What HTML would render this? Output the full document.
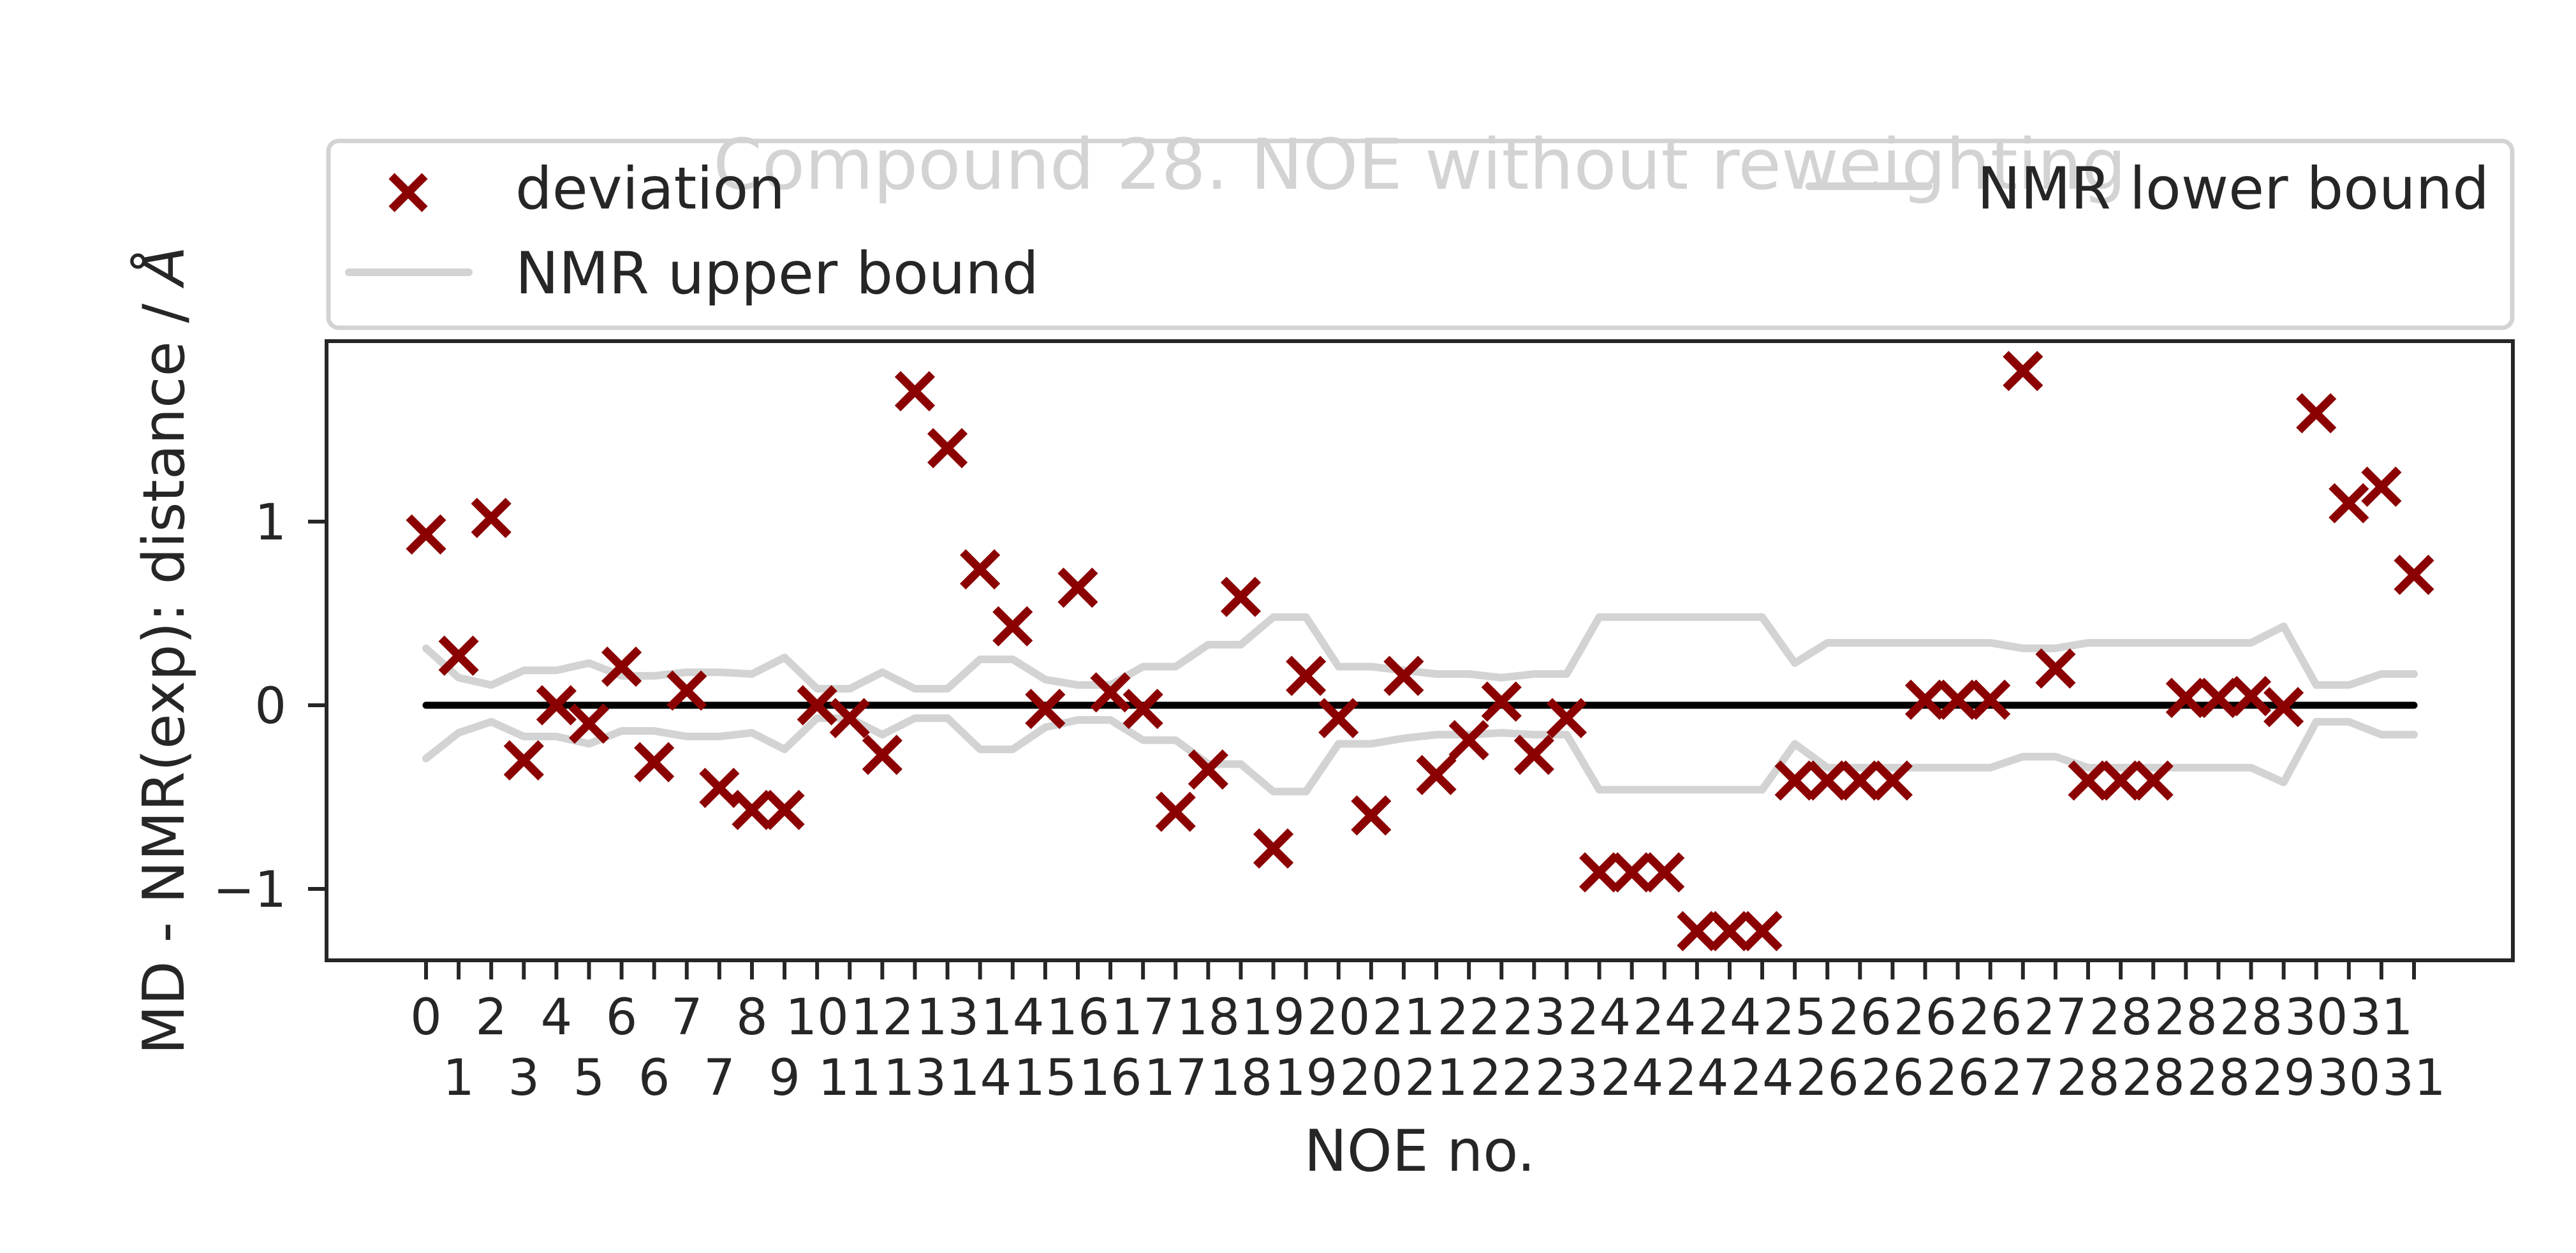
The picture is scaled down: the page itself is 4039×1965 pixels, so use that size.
<!DOCTYPE html>
<html><head><meta charset="utf-8"><style>
html,body{margin:0;padding:0;background:#fff;}
svg text{font-family:"DejaVu Sans","Liberation Sans",sans-serif;}
</style></head><body>
<svg id="chart" width="4039" height="1960" viewBox="0 0 4039 1960" xmlns="http://www.w3.org/2000/svg">
<rect width="4039" height="1960" fill="#fff"/>
<text x="2226" y="296" font-size="110" fill="#d3d3d3" text-anchor="middle">Compound 28. NOE without reweighting</text>
<g>
<rect x="515" y="221" width="3424" height="293" rx="16" fill="none" stroke="#d3d3d3" stroke-width="7"/>
<g>
<path d="M614 276 L666 328 M614 328 L666 276" stroke="#8b0000" stroke-width="13"/>
<text x="808" y="327" font-size="91" fill="#262626">deviation</text>
</g>
<g>
<line x1="547" y1="427" x2="735" y2="427" stroke="#d3d3d3" stroke-width="12" stroke-linecap="round"/>
<text x="808" y="460" font-size="91" fill="#262626">NMR upper bound</text>
</g>
<g>
<line x1="2837" y1="292" x2="3024" y2="292" stroke="#d3d3d3" stroke-width="12" stroke-linecap="round"/>
<text x="3100" y="327" font-size="91" fill="#262626">NMR lower bound</text>
</g>
</g>
<g id="plot"></g>
<rect x="512" y="535" width="3428" height="971" fill="none" stroke="#262626" stroke-width="6"/>
<g id="xticks"></g>
<g id="yticks"></g>
<text x="2226" y="1836" font-size="90" fill="#262626" text-anchor="middle">NOE no.</text>
<text transform="translate(288,1020) rotate(-90)" font-size="90" fill="#262626" text-anchor="middle">MD - NMR(exp): distance / <tspan font-style="italic">Å</tspan></text>
</svg>
<script>
const xLabels = ["0","1","2","3","4","5","6","6","7","7","8","9","10","11","12","13","13","14","14","15","16","16","17","17","18","18","19","19","20","20","21","21","22","22","23","23","24","24","24","24","24","24","25","26","26","26","26","26","26","27","27","28","28","28","28","28","28","29","30","30","31","31"];
const deviation = [0.93,0.27,1.02,-0.30,0.0,-0.10,0.21,-0.31,0.08,-0.45,-0.57,-0.57,0.0,-0.07,-0.27,1.71,1.40,0.74,0.43,-0.02,0.64,0.07,-0.02,-0.58,-0.35,0.59,-0.78,0.16,-0.07,-0.60,0.16,-0.38,-0.19,0.02,-0.27,-0.07,-0.91,-0.91,-0.91,-1.23,-1.23,-1.23,-0.41,-0.41,-0.41,-0.41,0.03,0.03,0.03,1.82,0.20,-0.41,-0.41,-0.41,0.04,0.04,0.05,-0.01,1.59,1.10,1.19,0.71];
const upperBound = [0.31,0.15,0.11,0.19,0.19,0.23,0.16,0.16,0.18,0.18,0.17,0.26,0.09,0.09,0.18,0.09,0.09,0.25,0.25,0.14,0.11,0.11,0.21,0.21,0.33,0.33,0.48,0.48,0.21,0.21,0.19,0.17,0.17,0.15,0.17,0.17,0.48,0.48,0.48,0.48,0.48,0.48,0.23,0.34,0.34,0.34,0.34,0.34,0.34,0.31,0.31,0.34,0.34,0.34,0.34,0.34,0.34,0.43,0.11,0.11,0.17,0.17];
const lowerBound = [-0.29,-0.15,-0.09,-0.17,-0.17,-0.21,-0.14,-0.14,-0.17,-0.17,-0.15,-0.24,-0.07,-0.07,-0.16,-0.07,-0.07,-0.24,-0.24,-0.12,-0.08,-0.08,-0.19,-0.19,-0.32,-0.32,-0.47,-0.47,-0.21,-0.21,-0.18,-0.16,-0.16,-0.15,-0.16,-0.16,-0.46,-0.46,-0.46,-0.46,-0.46,-0.46,-0.21,-0.34,-0.34,-0.34,-0.34,-0.34,-0.34,-0.28,-0.28,-0.34,-0.34,-0.34,-0.34,-0.34,-0.34,-0.42,-0.09,-0.09,-0.16,-0.16];
const yTicks = [-1,0,1];
const yTickLabels = ["\u22121","0","1"];

const NS = "http://www.w3.org/2000/svg";
const X0 = 668, X1 = 3785, Y0 = 1106, YU = 288;
function xScale(i){ return X0 + i*(X1-X0)/(xLabels.length-1); }
function yScale(v){ return Y0 - v*YU; }
function mk(tag, attrs, parent){ const e=document.createElementNS(NS,tag); for(const k in attrs) e.setAttribute(k,attrs[k]); parent.appendChild(e); return e; }

const plot = document.getElementById('plot');
function boundLine(arr, name){
  const d = arr.map((v,i)=>(i?'L':'M')+xScale(i).toFixed(1)+' '+yScale(v).toFixed(1)).join(' ');
  const p = mk('path',{d:d,fill:'none',stroke:'#d3d3d3','stroke-width':12,'stroke-linejoin':'round','stroke-linecap':'round'},plot);
  
  
}
boundLine(upperBound,'nmr-upper-bound-line');
boundLine(lowerBound,'nmr-lower-bound-line');
const zl = mk('line',{x1:xScale(0),x2:xScale(xLabels.length-1),y1:yScale(0),y2:yScale(0),stroke:'#000','stroke-width':11,'stroke-linecap':'round'},plot);


deviation.forEach((v,i)=>{
  const cx=xScale(i), cy=yScale(v), r=27;
  const m = mk('path',{d:`M${cx-r} ${cy-r} L${cx+r} ${cy+r} M${cx-r} ${cy+r} L${cx+r} ${cy-r}`,stroke:'#8b0000','stroke-width':13},plot);
  
  
});

const xt = document.getElementById('xticks');
xLabels.forEach((lab,i)=>{
  const x=xScale(i);
  const t = mk('line',{x1:x,x2:x,y1:1509,y2:1536,stroke:'#262626','stroke-width':6},xt);
  
  
  const tx = mk('text',{x:x,y:(i%2===0?1622:1717),'font-size':78,fill:'#262626','text-anchor':'middle'},xt);
  tx.textContent = lab;
  
  
});
const yt = document.getElementById('yticks');
yTicks.forEach((v,i)=>{
  const y=yScale(v);
  const t = mk('line',{x1:483,x2:512,y1:y,y2:y,stroke:'#262626','stroke-width':6},yt);
  
  
  const tx = mk('text',{x:449,y:y+28,'font-size':78,fill:'#262626','text-anchor':'end'},yt);
  tx.textContent = yTickLabels[i];
  
  
});
</script>
</body></html>
